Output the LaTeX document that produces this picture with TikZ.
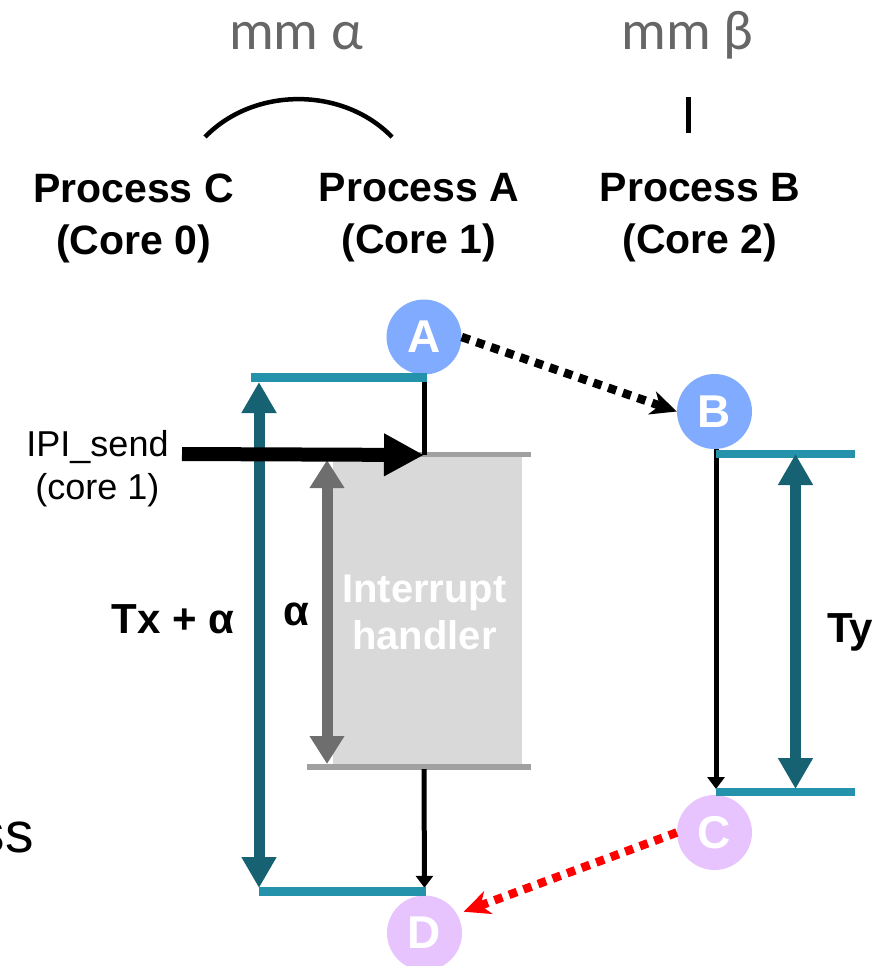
\documentclass[tikz,border=0pt]{standalone}
\usepackage{fontspec}
\setmainfont{Liberation Sans}
\newfontfamily\mmfont{Carlito}
\usetikzlibrary{arrows.meta}
\definecolor{circB}{RGB}{128,171,255}
\definecolor{circP}{RGB}{232,196,255}
\definecolor{tealL}{RGB}{36,146,171}
\definecolor{tealA}{RGB}{23,98,114}
\definecolor{boxG}{RGB}{217,217,217}
\definecolor{lineG}{RGB}{160,160,160}
\definecolor{arrG}{RGB}{110,110,110}
\definecolor{txtG}{RGB}{102,102,102}
\begin{document}
\begin{tikzpicture}[x=1pt,y=-1pt,
  circ/.style={circle, minimum size=75pt, inner sep=0pt, text=white,
    font=\fontsize{46}{46}\selectfont\bfseries},
  mmlabel/.style={text=txtG, inner sep=0pt, anchor=base,
    font=\mmfont\fontsize{56}{56}\selectfont},
  title/.style={align=center, inner sep=0pt,
    font=\fontsize{41}{52}\selectfont\bfseries},
  boldlbl/.style={inner sep=0pt, anchor=base, font=\fontsize{42}{42}\selectfont\bfseries},
  plainlbl/.style={align=center, inner sep=0pt, font=\fontsize{36}{43}\selectfont},
  tealline/.style={line width=8.5pt, tealL},
  grayline/.style={line width=5.5pt, lineG},
  blkline/.style={line width=5pt, black},
  blkarrow/.style={line width=5pt, black, -{Triangle[width=17pt,length=12pt]}},
  dimarrow/.style={line width=11pt, tealA,
    {Triangle[width=33pt,length=31pt]}-{Triangle[width=33pt,length=31pt]}},
  galarrow/.style={line width=11pt, arrG,
    {Triangle[width=33pt,length=28pt]}-{Triangle[width=33pt,length=28pt]}},
  dotarrow/.style={line width=8.5pt, dash pattern=on 8.5pt off 7pt,
    -{Stealth[length=26pt,width=24pt,inset=8pt]}},
]
\useasboundingbox (0,0) rectangle (876,966);
\clip (0,0) rectangle (876,966);

% headings
\node[mmlabel] (mma) at (296,50) {mm α};
\node[mmlabel] (mmb) at (687.5,50) {mm β};
\draw[line width=4.5pt] (205,137) .. controls (254,86.5) and (343,86.5) .. (392,137);
\draw[line width=5pt] (688,97) -- (688,133);

\node[title] (pc) at (133.5,218) {Process C\\(Core 0)};
\node[title] (pa) at (419,218) {Process A\\(Core 1)};
\node[title] (pb) at (700,218) {Process B\\(Core 2)};

% interrupt handler box
\fill[boxG] (333,455) rectangle (522,767);
\node[inner sep=0pt, align=center, text=white,
  font=\fontsize{40}{47}\selectfont\bfseries] (ih) at (424.5,612) {Interrupt\\handler};
\coordinate (gt1) at (307,454.5);
\coordinate (gt2) at (531,454.5);
\coordinate (gb1) at (307,767);
\coordinate (gb2) at (531,767);
\draw[grayline] (gt1) -- (gt2);
\draw[grayline] (gb1) -- (gb2);

% circles
\node[circ, fill=circB] (A) at (424,337) {A};
\node[circ, fill=circB] (B) at (714.5,411.5) {B};
\node[circ, fill=circP] (C) at (714.5,832.5) {C};
\node[circ, fill=circP] (D) at (424.5,933) {D};

% core 1 timeline
\coordinate (a1) at (424,455);
\coordinate (a2) at (424,769);
\draw[blkline] (A.south) -- (a1);
\draw[blkarrow, shorten >=7.5pt] (a2) -- (D.north);

% core 2 timeline
\coordinate (bs) at (716,449);
\coordinate (cn) at (716,795);
\draw[blkarrow, shorten >=6pt] (bs) -- (cn);

% teal bounds
\coordinate (tl1) at (251,377.5);
\coordinate (tl2) at (427,377.5);
\coordinate (bl1) at (259,891.5);
\coordinate (bl2) at (426,891.5);
\coordinate (tr1) at (716,454);
\coordinate (tr2) at (855,454);
\coordinate (br1) at (716,792);
\coordinate (br2) at (855,792);
\draw[tealline] (tl1) -- (tl2);
\draw[tealline] (bl1) -- (bl2);
\draw[tealline] (tr1) -- (tr2);
\draw[tealline] (br1) -- (br2);

% dimension arrows
\coordinate (tx1) at (259,382);
\coordinate (tx2) at (259,888);
\draw[dimarrow] (tx1) -- (tx2);
\coordinate (ty1) at (795.5,454);
\coordinate (ty2) at (795.5,789);
\draw[dimarrow] (ty1) -- (ty2);
\coordinate (al1) at (327,460);
\coordinate (al2) at (327,764);
\draw[galarrow] (al1) -- (al2);

% IPI send arrow
\coordinate (ipi) at (182,454);
\draw[line width=14pt, -{Triangle[width=40pt,length=40pt]}] (ipi) -- (a1);
\node[plainlbl] (ipit) at (97.5,469) {IPI\_send\\(core 1)};

% labels
\node[boldlbl] (txl) at (173,633) {Tx + α};
\node[boldlbl] (all) at (296.5,625) {α};
\node[boldlbl, anchor=base west] (tyl) at (827,642) {Ty};
\node[inner sep=0pt, anchor=base east, font=\fontsize{57}{57}\selectfont] (ssl) at (34,852) {ss};

% dotted messages
\draw[dotarrow, black] (A.east) -- (B.west);
\draw[dotarrow, red, shorten >=7pt] (C.west) -- (D.30);
\end{tikzpicture}
\end{document}
